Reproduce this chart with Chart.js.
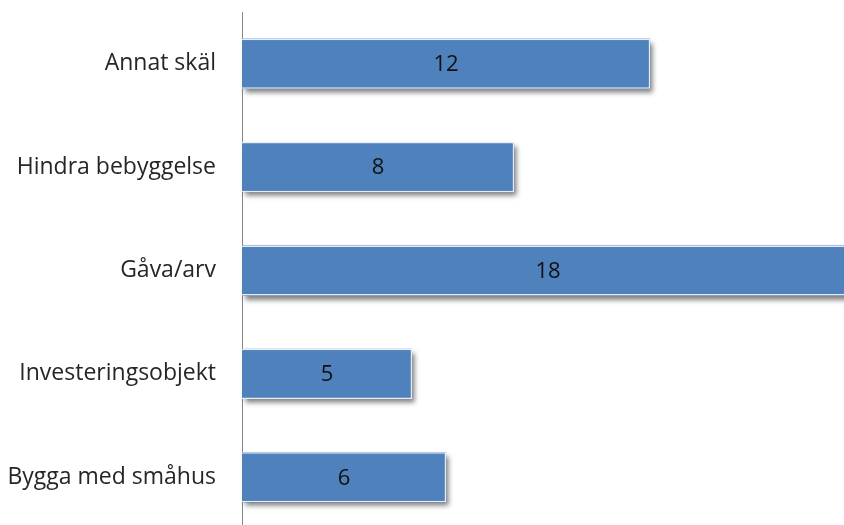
<!DOCTYPE html>
<html>
<head>
<meta charset="utf-8">
<script src="https://cdn.jsdelivr.net/npm/chart.js@4/dist/chart.umd.min.js"></script>
<style>
  html, body { margin: 0; padding: 0; background: #fff; overflow: hidden; }
  #wrap { position: relative; width: 844px; height: 529px; }
</style>
</head>
<body>
<div id="wrap"><canvas id="reasonChart"></canvas></div>
<script>
const categories = ['Annat skäl', 'Hindra bebyggelse', 'Gåva/arv', 'Investeringsobjekt', 'Bygga med småhus'];
const counts = [12, 8, 18, 5, 6];
const xMax = 17.7; // the longest bar runs off the right edge

const fontFamily = "'Open Sans', 'Noto Sans', sans-serif";

// soft drop shadow painted behind each bar before the bars themselves
const barShadow = {
    id: 'barShadow',
    beforeDatasetsDraw(chart) {
        const c = chart.ctx;
        const meta = chart.getDatasetMeta(0);
        c.save();
        c.shadowColor = 'rgba(0, 0, 0, 0.5)';
        c.shadowBlur = 5;
        c.shadowOffsetX = 3;
        c.shadowOffsetY = 4;
        c.fillStyle = '#4f81bd';
        meta.data.forEach(bar => {
            const { x, y, base, height } = bar.getProps(['x', 'y', 'base', 'height'], true);
            c.fillRect(base, y - height / 2, x - base, height);
        });
        c.restore();
    }
};

// value written in the middle of each bar
const barValues = {
    id: 'barValues',
    afterDatasetsDraw(chart) {
        const c = chart.ctx;
        const meta = chart.getDatasetMeta(0);
        c.save();
        c.font = '22px ' + fontFamily;
        c.fillStyle = '#111';
        c.textAlign = 'center';
        c.textBaseline = 'middle';
        meta.data.forEach((bar, i) => {
            const val = chart.data.datasets[0].data[i];
            c.fillText(String(val), (bar.base + bar.x) / 2, bar.y + 1);
        });
        c.restore();
    }
};

const ctx = document.getElementById('reasonChart').getContext('2d');
new Chart(ctx, {
    type: 'bar',
    data: {
        labels: categories,
        datasets: [{
            data: counts,
            backgroundColor: '#4f81bd',
            borderColor: '#e4ecf6',
            borderWidth: 1.5,
            borderSkipped: 'start',
            categoryPercentage: 1,
            barPercentage: 0.485
        }]
    },
    options: {
        indexAxis: 'y',
        responsive: true,
        maintainAspectRatio: false,
        animation: false,
        layout: { autoPadding: false, padding: { top: 12, right: 0, bottom: 0, left: 0 } },
        plugins: {
            legend: { display: false },
            tooltip: { enabled: false }
        },
        scales: {
            x: {
                display: false,
                min: 0,
                max: xMax
            },
            y: {
                afterFit: s => {
                    s.width = 242;
                    s.paddingTop = 0;
                    s.paddingBottom = 0;
                },
                grid: { display: false },
                border: { display: true, color: '#868686', width: 1 },
                ticks: {
                    padding: 18,
                    color: '#262626',
                    font: { family: fontFamily, size: 23 }
                }
            }
        }
    },
    plugins: [barShadow, barValues]
});
</script>
</body>
</html>
